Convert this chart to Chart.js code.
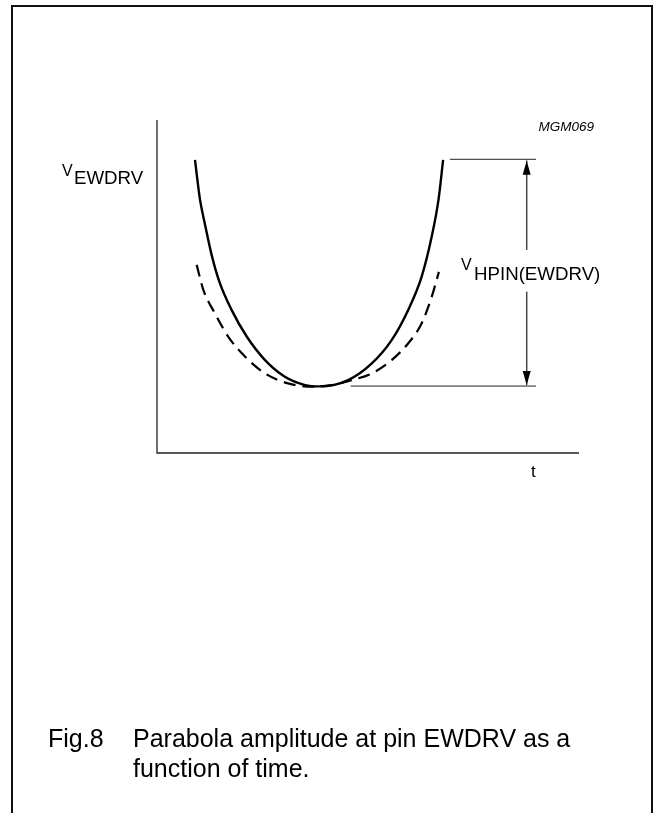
<!DOCTYPE html>
<html><head><meta charset="utf-8">
<script src="https://cdn.jsdelivr.net/npm/chart.js@4.4.1/dist/chart.umd.min.js"></script>
<style>html,body{margin:0;padding:0;background:#fff;}canvas{display:block}</style>
</head><body>
<canvas id="c" width="655" height="813"></canvas>
<script>
// ---- data (t in arbitrary units, V in arbitrary units) ----
const solidT = [0.90, 1.02, 1.14, 1.30, 1.49, 1.77, 2.13, 2.56, 3.03, 3.51, 3.85, 4.53, 5.09, 5.56, 5.95, 6.27, 6.51, 6.67, 6.78];
const solidV = [8.80, 7.60, 6.85, 5.92, 5.10, 4.29, 3.49, 2.79, 2.29, 2.04, 2.00, 2.19, 2.69, 3.39, 4.29, 5.29, 6.50, 7.60, 8.80];
const dashedT = [0.94, 1.10, 1.37, 1.69, 2.09, 2.56, 3.11, 3.67, 4.14, 4.61, 5.09, 5.56, 5.95, 6.27, 6.51, 6.68];
const dashedV = [5.65, 4.89, 4.20, 3.49, 2.89, 2.39, 2.09, 1.99, 2.04, 2.19, 2.39, 2.79, 3.29, 3.89, 4.69, 5.44];
const refTopT = [6.94, 8.98];
const refTopV = [8.82, 8.82];
const refBotT = [4.59, 8.98];
const refBotV = [2.01, 2.01];
const arrowT = [8.76, 8.76, 8.76, 8.76, 8.76];
const arrowV = [8.78, 6.10, null, 4.84, 2.04];
const axisT = [0, 10];
const axisV = [0, 10];
const yLabelMain = "V";
const yLabelSub = "EWDRV";
const xLabel = "t";
const ampLabelMain = "V";
const ampLabelSub = "HPIN(EWDRV)";
const figCode = "MGM069";
const captionNum = "Fig.8";
const captionLines = ["Parabola amplitude at pin EWDRV as a", "function of time."];

const pts = (xs, ys) => xs.map((x, i) => ({x: x, y: ys[i]}));
const FONT = '"Liberation Sans", Arial, Helvetica, sans-serif';

const decor = {
  id: 'decor',
  beforeDatasetsDraw(chart) {
    const ctx = chart.ctx, xs = chart.scales.x, ys = chart.scales.y;
    ctx.save();
    // frame
    ctx.strokeStyle = '#111'; ctx.lineWidth = 2;
    ctx.beginPath();
    ctx.moveTo(12, 900); ctx.lineTo(12, 6); ctx.lineTo(652, 6); ctx.lineTo(652, 900);
    ctx.stroke();
    // axes
    ctx.strokeStyle = '#222'; ctx.lineWidth = 1.3;
    ctx.beginPath();
    ctx.moveTo(xs.getPixelForValue(axisT[0]), ys.getPixelForValue(axisV[1]));
    ctx.lineTo(xs.getPixelForValue(axisT[0]), ys.getPixelForValue(axisV[0]));
    ctx.lineTo(xs.getPixelForValue(axisT[1]), ys.getPixelForValue(axisV[0]));
    ctx.stroke();
    ctx.restore();
  },
  afterDatasetsDraw(chart) {
    const ctx = chart.ctx, xs = chart.scales.x, ys = chart.scales.y;
    ctx.save();
    // arrowheads
    const ax = xs.getPixelForValue(arrowT[0]);
    const topY = ys.getPixelForValue(arrowV[0]);
    const botY = ys.getPixelForValue(arrowV[arrowV.length - 1]);
    ctx.fillStyle = '#000';
    ctx.beginPath(); ctx.moveTo(ax, topY); ctx.lineTo(ax - 4, topY + 14); ctx.lineTo(ax + 4, topY + 14); ctx.closePath(); ctx.fill();
    ctx.beginPath(); ctx.moveTo(ax, botY); ctx.lineTo(ax - 4, botY - 14); ctx.lineTo(ax + 4, botY - 14); ctx.closePath(); ctx.fill();
    // texts
    ctx.fillStyle = '#000';
    ctx.textBaseline = 'alphabetic';
    ctx.textAlign = 'left';
    ctx.font = '16px ' + FONT; ctx.fillText(yLabelMain, 62, 176);
    ctx.font = '18.7px ' + FONT; ctx.fillText(yLabelSub, 74, 183.5);
    ctx.font = '16px ' + FONT; ctx.fillText(ampLabelMain, 461, 270);
    ctx.font = '18.7px ' + FONT; ctx.fillText(ampLabelSub, 474, 280);
    ctx.font = '17px ' + FONT; ctx.fillText(xLabel, 531, 476.5);
    ctx.font = 'italic 13.5px ' + FONT; ctx.textAlign = 'right'; ctx.fillText(figCode, 594, 130.5);
    ctx.textAlign = 'left';
    ctx.font = '25px ' + FONT;
    ctx.fillText(captionNum, 48, 747);
    ctx.fillText(captionLines[0], 133, 747);
    ctx.fillText(captionLines[1], 133, 777);
    ctx.restore();
  }
};

new Chart(document.getElementById('c'), {
  type: 'line',
  data: {
    datasets: [
      {data: pts(solidT, solidV), borderColor: '#000', borderWidth: 2.4, pointRadius: 0, cubicInterpolationMode: 'monotone', fill: false},
      {data: pts(dashedT, dashedV), borderColor: '#000', borderWidth: 2.2, borderDash: [12, 7], pointRadius: 0, cubicInterpolationMode: 'monotone', fill: false},
      {data: pts(refTopT, refTopV), borderColor: '#222', borderWidth: 1, pointRadius: 0, fill: false},
      {data: pts(refBotT, refBotV), borderColor: '#222', borderWidth: 1, pointRadius: 0, fill: false},
      {data: pts(arrowT, arrowV), borderColor: '#444', borderWidth: 1, pointRadius: 0, spanGaps: false, fill: false}
    ]
  },
  options: {
    responsive: false,
    animation: false,
    devicePixelRatio: 1,
    layout: {padding: {left: 157, top: 120, right: 76, bottom: 360}},
    plugins: {legend: {display: false}, tooltip: {enabled: false}},
    scales: {
      x: {type: 'linear', display: false, min: axisT[0], max: axisT[1]},
      y: {type: 'linear', display: false, min: axisV[0], max: axisV[1]}
    }
  },
  plugins: [decor]
});
</script>
</body></html>
